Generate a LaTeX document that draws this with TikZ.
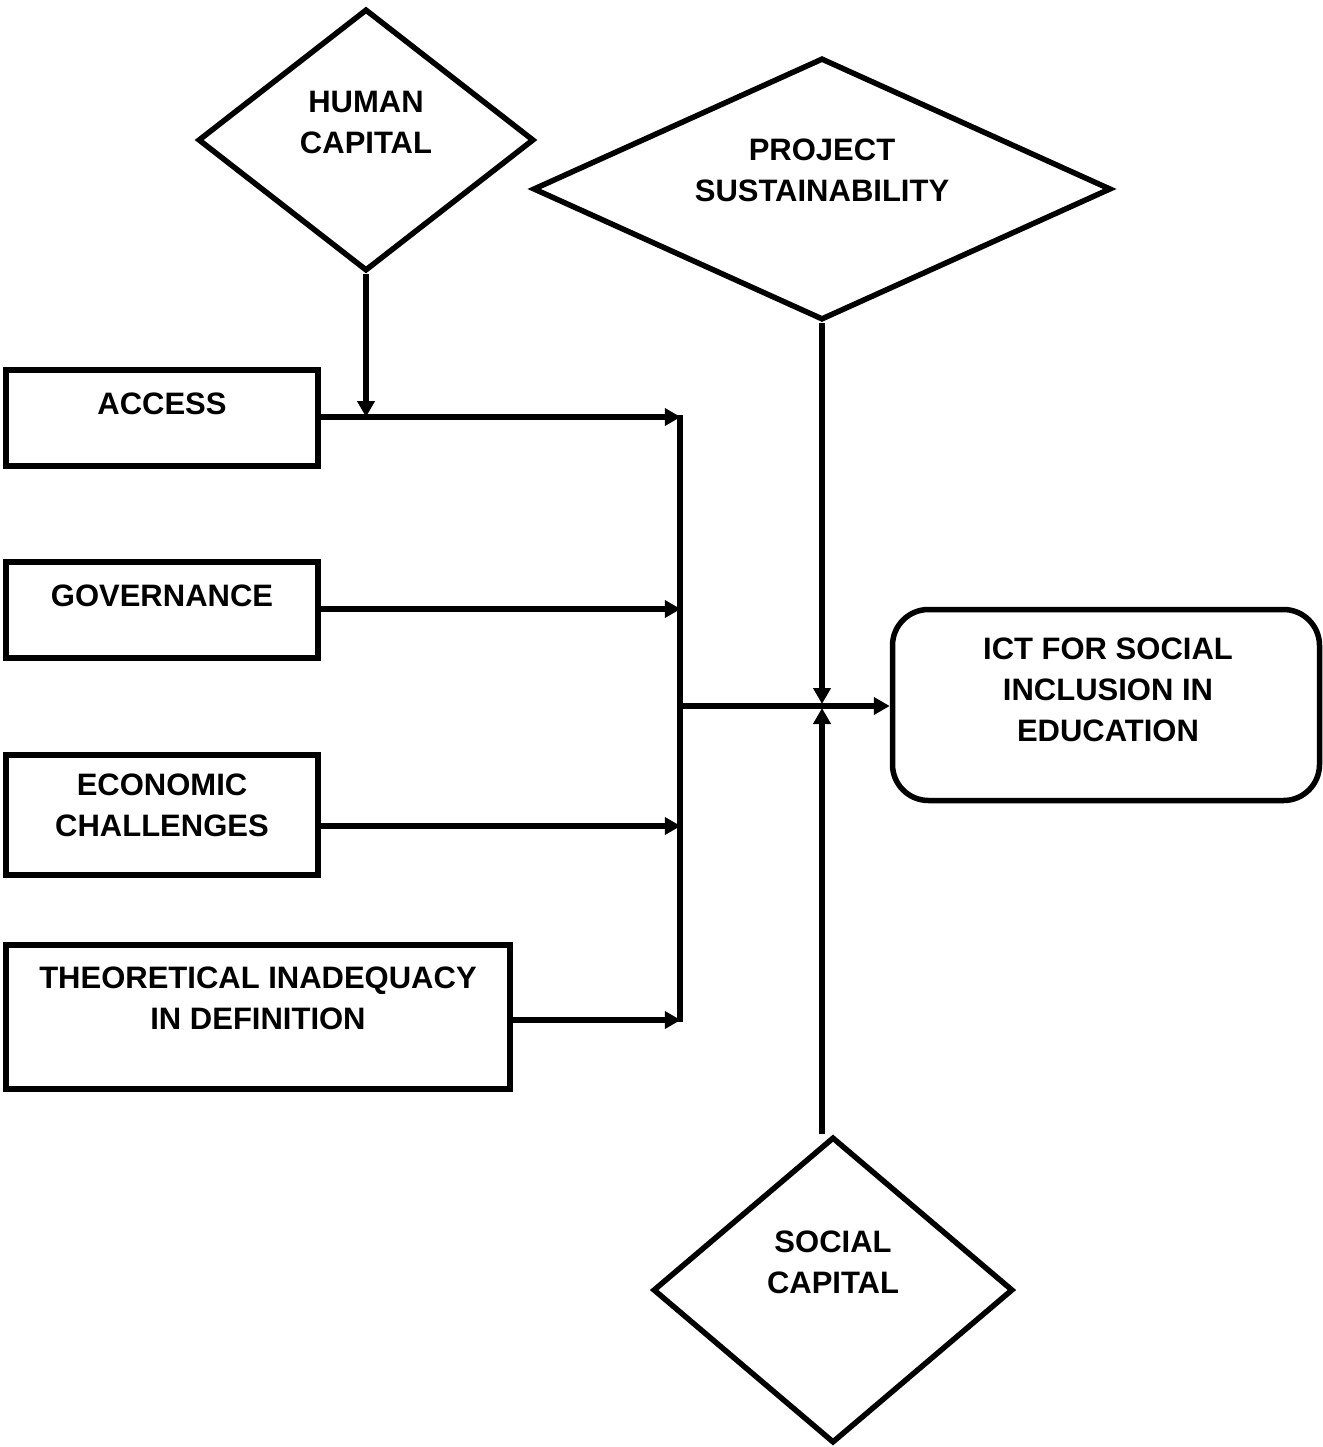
\documentclass[tikz,border=0pt]{standalone}
\usepackage{fontspec}
\setmainfont{Liberation Sans}
\usetikzlibrary{shapes.geometric,arrows.meta,calc}
\tikzset{
  every node/.style={font=\fontsize{31}{41}\selectfont\bfseries},
  dia/.style={draw, line width=5.5pt, shape=diamond, inner sep=0pt, line join=miter},
  box/.style={draw, line width=5.5pt, rectangle, inner sep=0pt},
  lbl/.style={align=center, inner sep=0pt},
  conn/.style={line width=5.5pt},
  arr/.style={line width=5.5pt, -{Triangle[length=16pt,width=17pt]}, shorten >=0pt}
}
\begin{document}
\begin{tikzpicture}[x=1pt,y=-1pt]
\useasboundingbox (0,0) rectangle (1322,1447);
% diamonds
\node[dia, minimum width=336pt, minimum height=262pt] (hc) at (366,140) {};
\node[lbl] (hct) at (366,122) {HUMAN\\CAPITAL};
\node[dia, minimum width=578pt, minimum height=262pt] (ps) at (822,189) {};
\node[lbl] (pst) at (822,170) {PROJECT\\SUSTAINABILITY};
\node[dia, minimum width=360pt, minimum height=306pt] (sc) at (833,1290) {};
\node[lbl] (sct) at (833,1262) {SOCIAL\\CAPITAL};
% boxes
\node[box, minimum width=312pt, minimum height=96pt] (acc) at (162,418) {};
\node[lbl] (acct) at (162,404) {ACCESS};
\node[box, minimum width=312pt, minimum height=96pt] (gov) at (162,610) {};
\node[lbl] (govt) at (162,596) {GOVERNANCE};
\node[box, minimum width=312pt, minimum height=120pt] (eco) at (162,815) {};
\node[lbl] (ecot) at (162,805) {ECONOMIC\\CHALLENGES};
\node[box, minimum width=504pt, minimum height=144pt] (the) at (258,1017) {};
\node[lbl] (thet) at (258,998) {THEORETICAL INADEQUACY\\IN DEFINITION};
\node[box, rounded corners=36pt, minimum width=427pt, minimum height=191pt] (ict) at (1106,705) {};
\node[lbl] (ictt) at (1108,690) {ICT FOR SOCIAL\\INCLUSION IN\\EDUCATION};
% bar and junction coordinates
\coordinate (bt) at (680,415);
\coordinate (bb) at (680,1022);
\coordinate (bj) at (680,706);
\coordinate (jx) at (822,706);
% connectors
\draw[arr] ($(acc.east)+(0,-1)$) -- ($(acc.east)+(360,-1)$) coordinate (a1);
\draw[arr] (hc.south) -- (hc.south |- a1);
\draw[arr] ($(gov.east)+(0,-1)$) -- ($(gov.east)+(360,-1)$);
\draw[arr] ($(eco.east)+(0,11)$) -- ($(eco.east)+(360,11)$);
\draw[arr] ($(the.east)+(0,3)$) -- ($(the.east)+(168,3)$);
\draw[conn] (bt) -- (bb);
\draw[arr] (bj) -- (bj -| ict.west);
\draw[arr] (ps.south) -- ($(jx)+(0,-2)$);
\draw[arr] (sc.north -| jx) -- ($(jx)+(0,2)$);
\end{tikzpicture}
\end{document}
